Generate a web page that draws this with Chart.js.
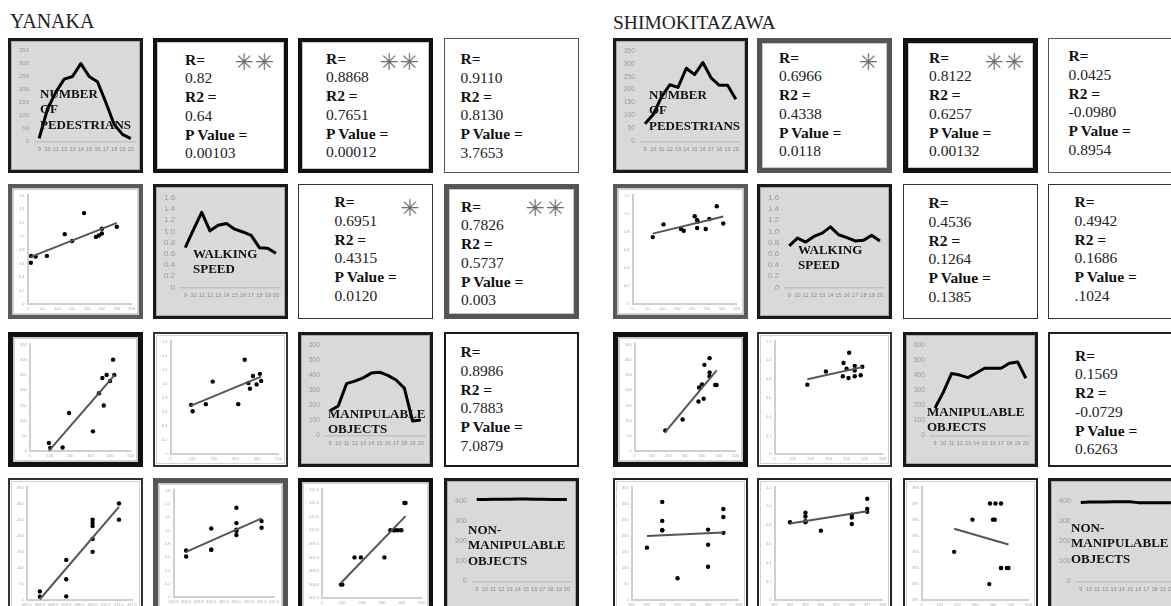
<!DOCTYPE html>
<html>
<head>
<meta charset="utf-8">
<script src="https://cdn.jsdelivr.net/npm/chart.js@4.4.1/dist/chart.umd.min.js"></script>
<style>
  body { margin: 0; background: #fff; }
  #page { position: relative; width: 1171px; height: 606px; overflow: hidden; font-family: "Liberation Serif", serif; }
  .title { position: absolute; font-size: 20px; color: #222; line-height: 1.107; }
  .cell { position: absolute; box-sizing: border-box; background: #fff; overflow: hidden; }
  .diag { background: #d9d9d9; }
  .cell canvas { position: absolute; display: block; }
  .txt { position: absolute; font-size: 15.5px; line-height: 18.7px; color: #222; white-space: nowrap; }
  .txt b { color: #111; }
  .star { position: absolute; font-family: "DejaVu Sans"; color: #6f6f6f; font-size: 23px; line-height: 23px; letter-spacing: 1px; white-space: nowrap; }
  .lbl { position: absolute; font-weight: bold; color: #111; font-size: 13px; line-height: 15.5px; white-space: nowrap; }
  .frame { position: absolute; border: 1px solid #d2d2d2; box-sizing: border-box; }
</style>
</head>
<body>
<div id="page"></div>
<script>
// hours of the day (x axis of the diagonal charts)
const hours = ['9', '10', '11', '12', '13', '14', '15', '16', '17', '18', '19', '20'];

// Yanaka, one value per hour
const yanakaPedestrians = [12, 125, 190, 240, 250, 300, 250, 230, 150, 65, 27, 11];
const yanakaWalkingSpeed = [0.71, 1.03, 1.34, 1.01, 1.11, 1.14, 1.04, 0.99, 0.93, 0.71, 0.70, 0.61];
const yanakaManipulable = [163, 195, 343, 360, 381, 413, 419, 398, 367, 313, 95, 102];
const yanakaNonManipulable = [409, 409, 410, 410, 410, 411, 411, 410, 410, 409, 408, 408];

// Shimokitazawa, one value per hour
const shimoPedestrians = [68, 104, 172, 219, 209, 283, 258, 305, 246, 217, 217, 163];
const shimoWalkingSpeed = [0.74, 0.88, 0.81, 0.91, 0.97, 1.08, 0.94, 0.89, 0.83, 0.84, 0.93, 0.83];
const shimoManipulable = [182, 285, 410, 400, 383, 414, 445, 445, 445, 478, 487, 379];
const shimoNonManipulable = [394, 396, 396, 396, 397, 397, 397, 393, 393, 393, 393, 392];

// correlation boxes, order: (0,1) (0,2) (0,3) (1,2) (1,3) (2,3)
const yanakaR = ['0.82', '0.8868', '0.9110', '0.6951', '0.7826', '0.8986'];
const yanakaR2 = ['0.64', '0.7651', '0.8130', '0.4315', '0.5737', '0.7883'];
const yanakaP = ['0.00103', '0.00012', '3.7653', '0.0120', '0.003', '7.0879'];
const yanakaStars = ['**', '**', '', '*', '**', ''];

const shimoR = ['0.6966', '0.8122', '0.0425', '0.4536', '0.4942', '0.1569'];
const shimoR2 = ['0.4338', '0.6257', '-0.0980', '0.1264', '0.1686', '-0.0729'];
const shimoP = ['0.0118', '0.00132', '0.8954', '0.1385', '.1024', '0.6263'];
const shimoStars = ['*', '**', '', '', '', ''];

// axis ticks: [min, max, step]
const yanakaDiagTicks = [[0, 350, 50], [0, 1.6, 0.2], [0, 600, 100], [0, 450, 100]];
const yanakaScatterTicks = [[0, 350, 50], [0, 1.6, 0.2], [0, 500, 100], [407.5, 411.5, 0.5]];
const shimoDiagTicks = [[0, 350, 50], [0, 1.6, 0.2], [0, 600, 100], [0, 450, 100]];
const shimoScatterTicks = [[0, 350, 50], [0, 1.2, 0.2], [0, 600, 100], [391, 398, 1]];

const variableNames = ['NUMBER<br>OF<br>PEDESTRIANS', 'WALKING<br>SPEED', 'MANIPULABLE<br>OBJECTS', 'NON-<br>MANIPULABLE<br>OBJECTS'];

// which variable goes on x / y in each lower cell: key "row,col" -> [xVar, yVar]
const scatterVars = { '1,0': [0, 1], '2,0': [2, 0], '2,1': [2, 1], '3,0': [3, 0], '3,1': [3, 1], '3,2': [2, 3] };

// layout
const SIZE = 135;
const rows = [38, 184, 332, 478];

const panels = [
  {
    name: 'YANAKA', titleX: 10, titleY: 10, titleSize: 20,
    cols: [8, 153, 298, 444],
    series: [yanakaPedestrians, yanakaWalkingSpeed, yanakaManipulable, yanakaNonManipulable],
    diagTicks: yanakaDiagTicks, scatterTicks: yanakaScatterTicks,
    R: yanakaR, R2: yanakaR2, P: yanakaP, stars: yanakaStars,
    borders: [
      [[3, '#1a1a1a'], [4, '#111'], [4, '#111'], [1.5, '#555']],
      [[4, '#5a5a5a'], [3, '#1a1a1a'], [1.5, '#333'], [5, '#555']],
      [[5, '#111'], [2, '#333'], [3, '#1a1a1a'], [2.5, '#1a1a1a']],
      [[2, '#333'], [5, '#555'], [4, '#111'], [3, '#1a1a1a']]
    ],
    textPos: [[32, 17], [28, 16], [17, 17], [37, 14], [17, 18], [17, 16]],
    labelPos: [[32, 47.5], [40, 61.5], [30, 73.5], [24, 43.5]],
    tickSize: [6, 8, 6.5, 7]
  },
  {
    name: 'SHIMOKITAZAWA', titleX: 613, titleY: 12, titleSize: 19.5,
    cols: [613, 757, 903, 1048],
    series: [shimoPedestrians, shimoWalkingSpeed, shimoManipulable, shimoNonManipulable],
    diagTicks: shimoDiagTicks, scatterTicks: shimoScatterTicks,
    R: shimoR, R2: shimoR2, P: shimoP, stars: shimoStars,
    borders: [
      [[3, '#1a1a1a'], [5, '#555'], [5, '#111'], [1.5, '#555']],
      [[4, '#5a5a5a'], [3, '#1a1a1a'], [1.5, '#333'], [1.5, '#333']],
      [[5, '#111'], [2, '#333'], [3, '#1a1a1a'], [2, '#222']],
      [[2, '#222'], [2, '#222'], [2, '#222'], [3, '#1a1a1a']]
    ],
    textPos: [[22, 15], [26, 15], [21, 14], [26, 15], [27, 14], [27, 19]],
    labelPos: [[36, 48.5], [41, 57.5], [24, 71.5], [23, 41.5]],
    tickSize: [6.5, 8, 6.5, 7]
  }
];

function linearFit(xs, ys) {
  const n = xs.length;
  const mx = xs.reduce((a, b) => a + b, 0) / n;
  const my = ys.reduce((a, b) => a + b, 0) / n;
  let sxy = 0, sxx = 0;
  for (let i = 0; i < n; i++) {
    sxy += (xs[i] - mx) * (ys[i] - my);
    sxx += (xs[i] - mx) * (xs[i] - mx);
  }
  const slope = sxy / sxx;
  return x => my + slope * (x - mx);
}

function diagChart(canvas, values, ticks, fontSize) {
  new Chart(canvas.getContext('2d'), {
    type: 'line',
    data: {
      labels: hours,
      datasets: [{
        data: values,
        borderColor: '#000',
        borderWidth: 3,
        pointRadius: 0,
        tension: 0,
        borderJoinStyle: 'round'
      }]
    },
    options: {
      responsive: false,
      animation: false,
      layout: { padding: { top: 4, bottom: 12, left: 2, right: 5 } },
      plugins: { legend: { display: false }, tooltip: { enabled: false } },
      scales: {
        x: {
          offset: true,
          grid: { display: false, drawTicks: false },
          border: { color: '#c2c2c2', width: 1.5 },
          ticks: { font: { size: 5.5, family: 'Liberation Sans' }, color: '#8c8c8c', maxRotation: 0, autoSkip: false, padding: 5 }
        },
        y: {
          min: ticks[0], max: ticks[1],
          grid: { display: false, drawTicks: false },
          border: { display: false },
          ticks: { stepSize: ticks[2], autoSkip: false, includeBounds: false, font: { size: fontSize, family: 'Liberation Sans' }, color: '#9a9a9a', padding: 6 }
        }
      }
    }
  });
}

function scatterChart(canvas, xs, ys, xt, yt) {
  const fit = linearFit(xs, ys);
  const x0 = Math.min(...xs), x1 = Math.max(...xs);
  new Chart(canvas.getContext('2d'), {
    type: 'scatter',
    data: {
      datasets: [
        {
          type: 'line',
          data: [{ x: x0, y: fit(x0) }, { x: x1, y: fit(x1) }],
          borderColor: '#555',
          borderWidth: 2,
          pointRadius: 0
        },
        {
          data: xs.map((x, i) => ({ x: x, y: ys[i] })),
          backgroundColor: '#000',
          borderWidth: 0,
          pointRadius: 2.2
        }
      ]
    },
    options: {
      responsive: false,
      animation: false,
      layout: { padding: { top: 4, bottom: 0, left: 2, right: 5 } },
      plugins: { legend: { display: false }, tooltip: { enabled: false } },
      scales: {
        x: {
          type: 'linear', min: xt[0], max: xt[1],
          grid: { display: false, drawTicks: false },
          border: { color: '#cfcfcf', width: 2 },
          ticks: { stepSize: xt[2], autoSkip: false, font: { size: 4, family: 'Liberation Sans' }, color: '#aaa', maxRotation: 0, padding: 2 }
        },
        y: {
          min: yt[0], max: yt[1],
          grid: { display: false, drawTicks: false },
          border: { color: '#cfcfcf', width: 2 },
          ticks: { stepSize: yt[2], autoSkip: false, font: { size: 4, family: 'Liberation Sans' }, color: '#aaa', padding: 3 }
        }
      }
    }
  });
}

function starText(s) {
  return s.replace(/\*/g, '\u2733\uFE0E');
}

function buildPanel(p) {
  const page = document.getElementById('page');
  const title = document.createElement('div');
  title.className = 'title';
  title.textContent = p.name;
  title.style.left = p.titleX + 'px';
  title.style.top = p.titleY + 'px';
  title.style.fontSize = p.titleSize + 'px';
  page.appendChild(title);

  let k = 0;
  for (let r = 0; r < 4; r++) {
    for (let c = 0; c < 4; c++) {
      const bw = p.borders[r][c][0], bc = p.borders[r][c][1];
      const cell = document.createElement('div');
      cell.className = 'cell';
      cell.style.left = p.cols[c] + 'px';
      cell.style.top = rows[r] + 'px';
      cell.style.width = SIZE + 'px';
      cell.style.height = SIZE + 'px';
      cell.style.border = bw + 'px solid ' + bc;
      if (bw >= 3) cell.style.boxShadow = 'inset 0 0 0 1px rgba(0,0,0,0.22)';
      page.appendChild(cell);
      const inner = SIZE - 2 * bw;

      if (r === c) {
        cell.classList.add('diag');
        const cv = document.createElement('canvas');
        cv.width = inner; cv.height = inner;
        cv.style.left = '0px'; cv.style.top = '0px';
        cell.appendChild(cv);
        diagChart(cv, p.series[r], p.diagTicks[r], p.tickSize[r]);
        const lab = document.createElement('div');
        lab.className = 'lbl';
        lab.innerHTML = variableNames[r];
        lab.style.left = (p.labelPos[r][0] - bw) + 'px';
        lab.style.top = (p.labelPos[r][1] - bw) + 'px';
        cell.appendChild(lab);
      } else if (c > r) {
        const t = document.createElement('div');
        t.className = 'txt';
        t.innerHTML = '<b>R=</b><br>' + p.R[k] + '<br><b>R2 =</b><br>' + p.R2[k] +
          '<br><b>P Value =</b><br>' + p.P[k];
        t.style.left = (p.textPos[k][0] - bw) + 'px';
        t.style.top = (p.textPos[k][1] - 4.3 - bw) + 'px';
        cell.appendChild(t);
        if (p.stars[k]) {
          const s = document.createElement('div');
          s.className = 'star';
          s.textContent = starText(p.stars[k]);
          s.style.right = (13 - bw) + 'px';
          s.style.top = (13 - bw) + 'px';
          cell.appendChild(s);
        }
        k++;
      } else {
        const frame = document.createElement('div');
        frame.className = 'frame';
        frame.style.left = '1px'; frame.style.top = '1px';
        frame.style.width = (inner - 2) + 'px'; frame.style.height = (inner - 2) + 'px';
        cell.appendChild(frame);
        const cv = document.createElement('canvas');
        cv.width = inner - 4; cv.height = inner - 4;
        cv.style.left = '2px'; cv.style.top = '2px';
        cell.appendChild(cv);
        const v = scatterVars[r + ',' + c];
        scatterChart(cv, p.series[v[0]], p.series[v[1]], p.scatterTicks[v[0]], p.scatterTicks[v[1]]);
      }
    }
  }
}

panels.forEach(buildPanel);
</script>
</body>
</html>
